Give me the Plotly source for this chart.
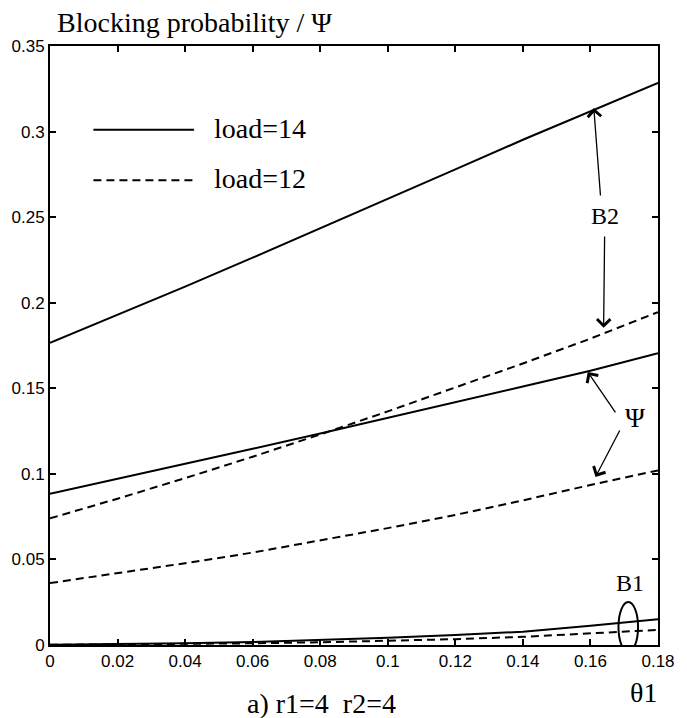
import plotly.graph_objects as go

theta1 = [0.0, 0.02, 0.04, 0.06, 0.08, 0.10, 0.12, 0.14, 0.16, 0.18]

# load = 14 (solid)
b2_load14 = [0.1765, 0.1928, 0.2094, 0.2263, 0.2434, 0.2606, 0.2779, 0.2952, 0.3120, 0.3285]
psi_load14 = [0.0883, 0.0970, 0.1058, 0.1147, 0.1236, 0.1326, 0.1418, 0.1510, 0.1603, 0.1705]
b1_load14 = [0.0002, 0.0005, 0.0010, 0.0018, 0.0028, 0.0042, 0.0058, 0.0078, 0.0112, 0.0150]

# load = 12 (dashed)
b2_load12 = [0.0740, 0.0855, 0.0975, 0.1100, 0.1230, 0.1365, 0.1505, 0.1645, 0.1790, 0.1945]
psi_load12 = [0.0362, 0.0418, 0.0478, 0.0540, 0.0610, 0.0683, 0.0760, 0.0845, 0.0935, 0.1020]
b1_load12 = [0.0001, 0.0003, 0.0006, 0.0010, 0.0016, 0.0024, 0.0034, 0.0048, 0.0066, 0.0088]

x_ticks = [0, 0.02, 0.04, 0.06, 0.08, 0.1, 0.12, 0.14, 0.16, 0.18]
x_tick_text = ["0", "0.02", "0.04", "0.06", "0.08", "0.1", "0.12", "0.14", "0.16", "0.18"]
y_ticks = [0, 0.05, 0.1, 0.15, 0.2, 0.25, 0.3, 0.35]
y_tick_text = ["0", "0.05", "0.1", "0.15", "0.2", "0.25", "0.3", "0.35"]

SERIF = "Liberation Serif, Times New Roman, serif"
SANS = "Liberation Sans, Arial, sans-serif"
DASH = "8px,5px"

fig = go.Figure()
for ys in (b2_load14, psi_load14, b1_load14):
    fig.add_trace(go.Scatter(x=theta1, y=ys, mode="lines",
                             line=dict(color="black", width=2), showlegend=False))
for ys in (b2_load12, psi_load12, b1_load12):
    fig.add_trace(go.Scatter(x=theta1, y=ys, mode="lines",
                             line=dict(color="black", width=2, dash=DASH), showlegend=False))

axis_common = dict(showgrid=False, zeroline=False, showline=True, linecolor="black",
                   linewidth=2, mirror="ticks", ticks="inside", ticklen=6,
                   tickcolor="black", tickwidth=1.5,
                   tickfont=dict(family=SANS, size=17, color="black"))
fig.update_xaxes(range=[0, 0.18], tickvals=x_ticks, ticktext=x_tick_text, **axis_common)
fig.update_yaxes(range=[0, 0.35], tickvals=y_ticks, ticktext=y_tick_text, **axis_common)

# legend drawn inside the plot
fig.add_shape(type="line", xref="x domain", yref="y domain", x0=0.0714, x1=0.237,
              y0=0.860, y1=0.860, line=dict(color="black", width=2))
fig.add_shape(type="line", xref="x domain", yref="y domain", x0=0.0714, x1=0.237,
              y0=0.776, y1=0.776, line=dict(color="black", width=2, dash=DASH))

annots = [
    dict(text="load=14", xref="x domain", yref="y domain", x=0.266, y=0.863,
         xanchor="left", yanchor="middle", font=dict(family=SERIF, size=28)),
    dict(text="load=12", xref="x domain", yref="y domain", x=0.266, y=0.779,
         xanchor="left", yanchor="middle", font=dict(family=SERIF, size=28)),
    dict(text="Blocking probability / Ψ", xref="x domain", yref="y domain", x=0.008, y=1.040,
         xanchor="left", yanchor="middle", font=dict(family=SERIF, size=28)),
    dict(text="a) r1=4  r2=4", xref="x domain", yref="y domain", x=0.447, y=-0.097,
         xanchor="center", yanchor="middle", font=dict(family=SERIF, size=28)),
    dict(text="θ1", xref="x domain", yref="y domain", x=0.976, y=-0.080,
         xanchor="center", yanchor="middle", font=dict(family=SERIF, size=28)),
    dict(text="B2", xref="x", yref="y", x=0.1642, y=0.2507, xanchor="center",
         yanchor="middle", font=dict(family=SERIF, size=24)),
    dict(text="Ψ", xref="x", yref="y", x=0.1733, y=0.1324, xanchor="center",
         yanchor="middle", font=dict(family=SERIF, size=27)),
    dict(text="B1", xref="x", yref="y", x=0.1718, y=0.0362, xanchor="center",
         yanchor="middle", font=dict(family=SERIF, size=24)),
]
for a in annots:
    a.setdefault("showarrow", False)
    a["font"]["color"] = "black"
    fig.add_annotation(**a)

arrows = [
    ((0.161, 0.3138), (0.163, 0.2618)),
    ((0.1639, 0.1853), (0.1642, 0.2396)),
    ((0.1592, 0.1595), (0.1677, 0.1350)),
    ((0.1615, 0.0982), (0.1689, 0.1262)),
]
for (tx, ty), (sx, sy) in arrows:
    fig.add_annotation(x=tx, y=ty, ax=sx, ay=sy, xref="x", yref="y", axref="x", ayref="y",
                       text="", showarrow=True, arrowhead=4, arrowsize=2.0,
                       arrowwidth=1.3, arrowcolor="black")

# ellipse around B1 curves
fig.add_shape(type="circle", xref="x", yref="y", x0=0.1683, x1=0.1741,
              y0=-0.0041, y1=0.0251, line=dict(color="black", width=2))

fig.update_layout(width=687, height=718, margin=dict(l=49, r=22, t=46, b=73),
                  paper_bgcolor="white", plot_bgcolor="white", showlegend=False)

fig.write_html("out.html")
